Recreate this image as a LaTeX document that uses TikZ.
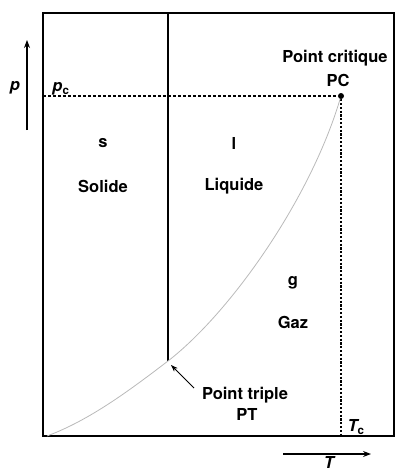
\documentclass[tikz,border=0pt]{standalone}
\usepackage{fontspec}
\setmainfont{TeX Gyre Heros}
\usepackage{tikz}
\usetikzlibrary{arrows.meta,positioning}

\begin{document}
\begin{tikzpicture}[
  x=1pt, y=-1pt,
  lbl/.style={inner sep=0pt, font=\bfseries\fontsize{16.5}{18}\selectfont, align=center},
  frame/.style={line width=1.7pt},
  dashline/.style={densely dashed, line width=1.1pt},
  arr/.style={-{Stealth[length=8pt,width=6pt]}, line width=1.1pt},
]
\useasboundingbox (0,0) rectangle (395,472);
% points of the diagram
\coordinate (o) at (43,436);
\coordinate (tl) at (43,13);
\coordinate (tr) at (394,13);
\coordinate (br) at (394,436);
\coordinate (pt) at (168,361);
\coordinate (top) at (168,13);
\coordinate (pcl) at (43,96);
\coordinate (tcb) at (341,436);
\coordinate (start) at (47,436);
\node[circle, fill, inner sep=0pt, minimum size=6pt] (pc) at (341,96) {};

\draw[frame] (tl) -- (tr) -- (br) -- (o) -- cycle;
\draw[frame] (top) -- (pt);
\draw[dashline] (pcl) -- (pc);
\draw[dashline, dash pattern=on 2.2pt off 1.6pt] (pc) -- (tcb);
\draw[gray!55, line width=0.8pt] (start) .. controls (90,420) and (130,390) .. (pt)
  .. controls (230,313) and (310,200) .. (pc);

% axes
\coordinate (pa) at (27,130);
\coordinate (pb) at (27,40);
\coordinate (ta) at (283,454);
\coordinate (tb) at (371,454);
\draw[arr] (pa) -- (pb);
\draw[arr] (ta) -- (tb);
\node[lbl] (p) at (15,88) {\itshape p};
\node[lbl] (pclbl) at (61,89) {\itshape p\textsubscript{\upshape c}};
\node[lbl] (tclbl) at (356,427) {\itshape T\textsubscript{\upshape c}};
\node[lbl] (t) at (329,462) {\itshape T};

% regions
\node[lbl] (s) at (103,143) {s};
\node[lbl] (solide) at (103,186) {Solide};
\node[lbl] (l) at (234,143) {l};
\node[lbl] (liquide) at (234,186) {Liquide};
\node[lbl] (g) at (293,283) {g};
\node[lbl] (gaz) at (293,322) {Gaz};

% points
\node[lbl] (pclab) at (335,58) {Point critique};
\node[lbl] (pcname) at (338,80) {PC};
\node[lbl] (ptlab) at (245,395) {Point triple};
\node[lbl] (ptname) at (247,414) {PT};
\coordinate (ptarr) at (194,388);
\draw[-{Stealth[length=7pt,width=5pt]}, line width=0.9pt] (ptarr) -- ([shift={(3,4)}]pt);
\end{tikzpicture}
\end{document}
